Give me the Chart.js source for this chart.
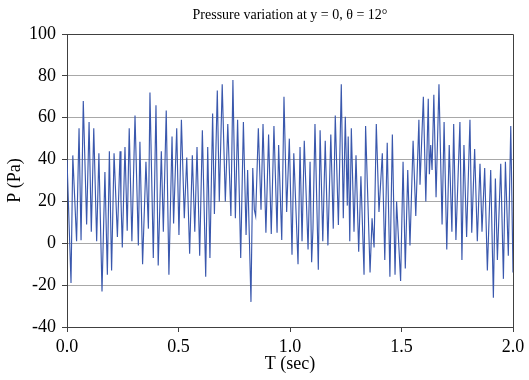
<!DOCTYPE html>
<html>
<head>
<meta charset="utf-8">
<script src="https://cdn.jsdelivr.net/npm/chart.js@4/dist/chart.umd.min.js"></script>
<style>
  html, body { margin: 0; padding: 0; background: #ffffff; }
  #wrap { width: 529px; height: 380px; }
</style>
</head>
<body>
<div id="wrap"><canvas id="c" width="529" height="380"></canvas></div>
<script>
const CHART_TITLE = "Pressure variation at y = 0, \u03b8 = 12\u00b0";
const X_TITLE = "T (sec)";
const Y_TITLE = "P (Pa)";
const X_TICKS = [0, 0.5, 1.0, 1.5, 2.0];
const Y_TICKS = [-40, -20, 0, 20, 40, 60, 80, 100];

const T_SEC = [0.000,0.018,0.026,0.043,0.054,0.063,0.073,0.088,0.099,0.109,
0.120,0.133,0.143,0.157,0.170,0.181,0.190,0.200,0.211,
0.226,0.238,0.242,0.248,0.260,0.270,0.279,0.291,0.305,0.320,
0.327,0.339,0.354,0.365,0.372,0.387,0.399,0.409,0.423,0.432,
0.445,0.457,0.471,0.478,0.492,0.502,0.513,0.526,0.537,0.550,
0.562,0.573,0.583,0.595,0.607,0.622,0.631,0.641,0.653,0.661,
0.674,0.683,0.696,0.710,0.721,0.735,0.744,0.755,0.765,0.779,
0.791,0.803,0.810,0.825,0.833,0.840,0.846,0.858,0.870,0.879,
0.892,0.904,0.916,0.928,0.942,0.949,0.963,0.973,0.985,0.997,
1.009,1.017,1.036,1.045,1.054,1.064,1.081,1.090,1.097,1.103,
1.112,1.127,1.135,1.147,1.158,1.170,1.183,1.194,1.203,1.217,
1.230,1.239,1.248,1.257,1.261,1.268,1.275,1.287,1.296,1.308,
1.318,1.332,1.339,1.359,1.368,1.377,1.387,1.399,1.414,1.425,
1.436,1.448,1.459,1.471,1.478,1.496,1.507,1.517,1.528,1.538,
1.552,1.564,1.578,1.583,1.598,1.609,1.620,1.625,1.631,1.637,
1.645,1.655,1.668,1.682,1.691,1.703,1.714,1.726,1.734,1.744,
1.762,1.771,1.780,1.792,1.807,1.815,1.828,1.840,1.852,1.861,
1.873,1.885,1.900,1.912,1.921,1.930,1.945,1.957,1.966,1.979,
1.990,2.000];

const P_PA = [40,-19,42,1,55,1.5,68,9,58,5.5,
55,1,43,-23,34,-15,44,-13,43,
3,44,21,-2,46,6,55,1,61,-1,
48.5,-10,39,7,72,-7,66,-10.6,44,5.5,
63.5,-15,51,9.5,55,4,59,12,41,-5,
42,5.5,46,-6,54,-16,46,-7,62,14,
73,20,76,20,57,13,78,12,59,-7,
58,4,35,-28,36,16,13,55,16,57,
5,52,4.4,56,5,47,1.6,70,15,50,
-5.5,43,-10,46,1,49,-3,39,-9,7,
57,-12.6,54,1,49,-1,52,7,61,8.7,
76,12,60.5,18,51,1,55,5.5,42,-4,
32,-15,56,-14,12,-2,57,15,43,-8,
48,-16,52,-15,20,-18,39,-12,35,-1,
49,13,59,28,70,20,69,33,47,35,
71,22,76,9,58,-3,47,5.5,57,1.6,
58,-8,47,3,59,5,45,1,38,5.5,
36,-13,35,-26,31,-8,38,-17,39,-6,
56,-14];

const points = T_SEC.map((t, i) => ({ x: t, y: P_PA[i] }));

const FONT = "'Liberation Serif', 'Times New Roman', Times, serif";
const AXIS_COLOR = '#404040';
const GRID_COLOR = '#a8a8a8';

const frameAndTitle = {
  id: 'frameAndTitle',
  afterDraw(chart) {
    const a = chart.chartArea;
    const ctx = chart.ctx;
    ctx.save();
    ctx.strokeStyle = AXIS_COLOR;
    ctx.lineWidth = 1;
    ctx.beginPath();
    ctx.moveTo(Math.round(a.left) + 0.5, Math.round(a.top) + 0.5);
    ctx.lineTo(Math.round(a.right) + 0.5, Math.round(a.top) + 0.5);
    ctx.lineTo(Math.round(a.right) + 0.5, Math.round(a.bottom) + 0.5);
    ctx.stroke();
    ctx.fillStyle = '#000';
    ctx.font = "14px " + FONT;
    ctx.textAlign = 'center';
    ctx.textBaseline = 'middle';
    ctx.fillText(CHART_TITLE, (a.left + a.right) / 2, 15);
    ctx.restore();
  }
};

new Chart(document.getElementById('c'), {
  type: 'line',
  data: {
    datasets: [{
      data: points,
      borderColor: '#3a58ad',
      borderWidth: 1.15,
      pointRadius: 0,
      tension: 0,
      fill: false
    }]
  },
  options: {
    responsive: false,
    animation: false,
    devicePixelRatio: 1,
    layout: { padding: { left: 0, right: 16, top: 34, bottom: 0 } },
    plugins: {
      legend: { display: false },
      tooltip: { enabled: false },
      title: { display: false }
    },
    scales: {
      x: {
        type: 'linear',
        min: 0, max: 2,
        afterBuildTicks(scale) { scale.ticks = X_TICKS.map(v => ({ value: v })); },
        afterFit(scale) { scale.height = 53; },
        grid: { drawOnChartArea: false, drawTicks: true, tickLength: 5, tickColor: AXIS_COLOR },
        border: { color: AXIS_COLOR, width: 1 },
        ticks: {
          color: '#000',
          font: { family: FONT, size: 18 },
          padding: 4,
          maxRotation: 0,
          callback: v => Number(v).toFixed(1)
        },
        title: {
          display: true, text: X_TITLE, color: '#000',
          font: { family: FONT, size: 18 },
          padding: { top: 0, bottom: 5 }
        }
      },
      y: {
        type: 'linear',
        min: -40, max: 100,
        afterBuildTicks(scale) { scale.ticks = Y_TICKS.map(v => ({ value: v })); },
        afterFit(scale) { scale.width = 67; },
        grid: { color: GRID_COLOR, lineWidth: 1, drawTicks: true, tickLength: 5, tickColor: AXIS_COLOR },
        border: { color: AXIS_COLOR, width: 1 },
        ticks: {
          color: '#000',
          font: { family: FONT, size: 18 },
          padding: 6
        },
        title: {
          display: true, text: Y_TITLE, color: '#000',
          font: { family: FONT, size: 18 },
          padding: { top: 4, bottom: 0 }
        }
      }
    }
  },
  plugins: [frameAndTitle]
});
</script>
</body>
</html>
